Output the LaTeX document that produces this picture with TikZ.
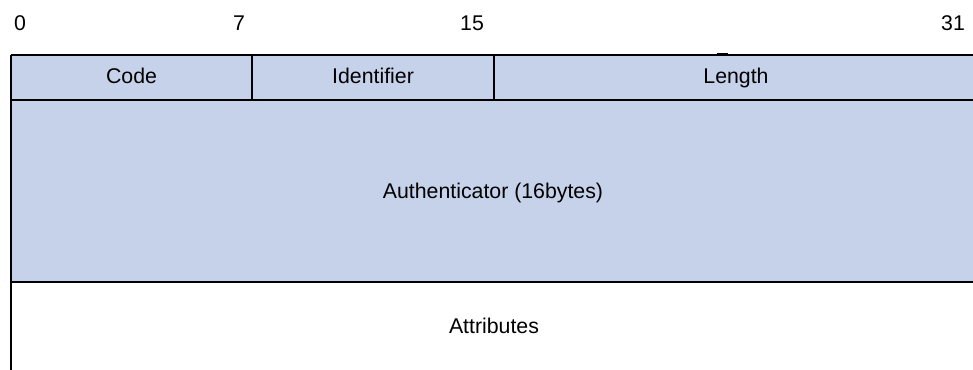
\documentclass[tikz,border=0pt]{standalone}
\usepackage{fontspec}
\setmainfont{Liberation Sans}
\definecolor{fieldblue}{RGB}{197,210,234}

\begin{document}
\begin{tikzpicture}[x=1pt,y=-1pt,line width=2.8pt,
    every node/.style={inner sep=0pt,anchor=base,font=\fontsize{21.3}{25}\selectfont}]
    \useasboundingbox (0,0) rectangle (973,369);
    \clip (0,0) rectangle (973,369);
    \coordinate (A1) at (11, 55);
    \coordinate (A2) at (252, 55);
    \coordinate (A3) at (494, 55);
    \coordinate (A4) at (980, 55);
    \coordinate (B1) at (11, 100);
    \coordinate (B2) at (252, 100);
    \coordinate (B3) at (494, 100);
    \coordinate (B4) at (980, 100);
    \coordinate (C1) at (11, 282);
    \coordinate (C4) at (980, 282);
    \coordinate (D1) at (11, 372);
    \coordinate (M1) at (717, 53.5);
    \coordinate (M2) at (728, 53.5);

    \fill[fieldblue] (A1) rectangle (C4); % header + authenticator

    \draw (A1) -- (A4); % top
    \draw (B1) -- (B4); % header bottom
    \draw (C1) -- (C4); % authenticator bottom
    \draw (A1) -- (D1); % left
    \draw (A2) -- (B2); % code | identifier
    \draw (A3) -- (B3); % identifier | length
    \draw[line width=1.2pt] (M1) -- (M2);

    \node (b0) at (20, 31) {0};
    \node (b7) at (239, 31) {7};
    \node (b15) at (472, 31) {15};
    \node (b31) at (953, 31) {31};

    \node (code) at (131.5, 83.5) {Code};
    \node (ident) at (373, 83.5) {Identifier};
    \node (len) at (736, 83.5) {Length};
    \node (auth) at (493, 198.5) {Authenticator (16bytes)};
    \node (attr) at (494, 333) {Attributes};
\end{tikzpicture}
\end{document}
